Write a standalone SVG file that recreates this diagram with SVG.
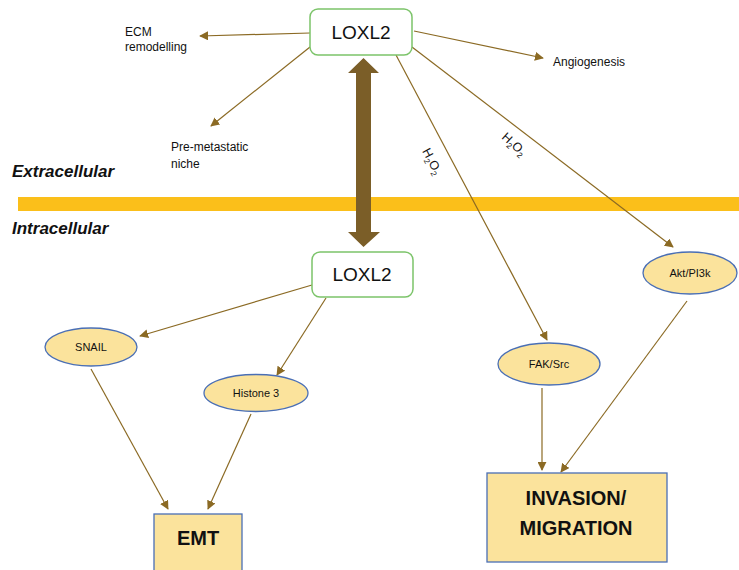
<svg xmlns="http://www.w3.org/2000/svg" width="739" height="570" viewBox="0 0 739 570">
<defs>
<marker id="ah" viewBox="0 0 10 10" refX="9" refY="5" markerWidth="9" markerHeight="9" markerUnits="userSpaceOnUse" orient="auto">
<path d="M0,0 L10,5 L0,10 z" fill="#8B6A24"/>
</marker>
</defs>
<style>
text{font-family:"Liberation Sans",Arial,sans-serif;fill:#111}
.lbl{font-size:12px}
.nl{font-size:11px;text-anchor:middle}
.lox{font-size:19px;text-anchor:middle}
.big{font-size:20px;font-weight:bold;text-anchor:middle}
.side{font-size:17px;font-weight:bold;font-style:italic}
.conn line{stroke:#8B6A24;stroke-width:1.2;fill:none;marker-end:url(#ah)}
.gbox{fill:#fff;stroke:#7CC46A;stroke-width:1.5}
.ell{fill:#FBE39C;stroke:#4A6FB5;stroke-width:1.3}
.box{fill:#FBE39C;stroke:#4A6FB5;stroke-width:1.3}
.h2o2{font-size:12.5px}
.sub{font-size:8px}
</style>
<rect width="739" height="570" fill="#fff"/>
<rect x="18" y="197" width="721" height="14" fill="#FBBF1A"/>
<text class="side" x="12" y="177">Extracellular</text>
<text class="side" x="12" y="234">Intracellular</text>

<g id="double-arrow">
<path d="M363.5,58 L379,73 L371,73 L371,232 L380,232 L363.5,247 L348,232 L356,232 L356,73 L348,73 z" fill="#7B5E28"/>
</g>

<g class="conn" id="connectors">
<line x1="310" y1="33" x2="200" y2="36"/>
<line x1="310" y1="47" x2="211" y2="126"/>
<line x1="414" y1="31" x2="543" y2="58"/>
<line x1="396" y1="55" x2="547" y2="340"/>
<line x1="412" y1="47" x2="673" y2="247"/>
<line x1="312" y1="285" x2="140" y2="336"/>
<line x1="326" y1="298" x2="277" y2="375"/>
<line x1="91" y1="369" x2="168" y2="509"/>
<line x1="251" y1="414" x2="208" y2="509"/>
<line x1="542" y1="388" x2="542" y2="470"/>
<line x1="687" y1="301" x2="561" y2="472"/>
</g>

<g id="lbl-h2o2-a"><text class="h2o2" transform="translate(422,151) rotate(62)">H<tspan class="sub" dy="3">2</tspan><tspan dy="-3">O</tspan><tspan class="sub" dy="3">2</tspan></text></g>
<g id="lbl-h2o2-b"><text class="h2o2" transform="translate(501,138) rotate(42)">H<tspan class="sub" dy="3">2</tspan><tspan dy="-3">O</tspan><tspan class="sub" dy="3">2</tspan></text></g>

<g id="ecm"><text class="lbl" x="125" y="36">ECM</text><text class="lbl" x="125" y="51">remodelling</text></g>
<g id="premet"><text class="lbl" x="171" y="151">Pre-metastatic</text><text class="lbl" x="171" y="168">niche</text></g>
<g id="angio"><text class="lbl" x="553" y="66">Angiogenesis</text></g>

<g id="loxl2-top"><rect class="gbox" x="310" y="9" width="102" height="46" rx="8"/><text class="lox" x="361" y="39">LOXL2</text></g>
<g id="loxl2-bottom"><rect class="gbox" x="312" y="252" width="101" height="45" rx="8"/><text class="lox" x="362" y="281">LOXL2</text></g>

<g id="snail"><ellipse class="ell" cx="91" cy="347" rx="46" ry="19"/><text class="nl" x="91" y="351">SNAIL</text></g>
<g id="histone3"><ellipse class="ell" cx="256" cy="393" rx="52" ry="18.5"/><text class="nl" x="256" y="397">Histone 3</text></g>
<g id="fak"><ellipse class="ell" cx="549" cy="364" rx="51" ry="21"/><text class="nl" x="549" y="368">FAK/Src</text></g>
<g id="akt"><ellipse class="ell" cx="690" cy="273" rx="47" ry="21"/><text class="nl" x="690" y="277">Akt/PI3k</text></g>

<g id="emt"><rect class="box" x="154" y="514" width="88" height="70"/><text class="big" x="198" y="545" font-size="22">EMT</text></g>
<g id="invasion"><rect class="box" x="487" y="473" width="180" height="89"/><text class="big" x="576" y="505">INVASION/</text><text class="big" x="576" y="535">MIGRATION</text></g>
</svg>
